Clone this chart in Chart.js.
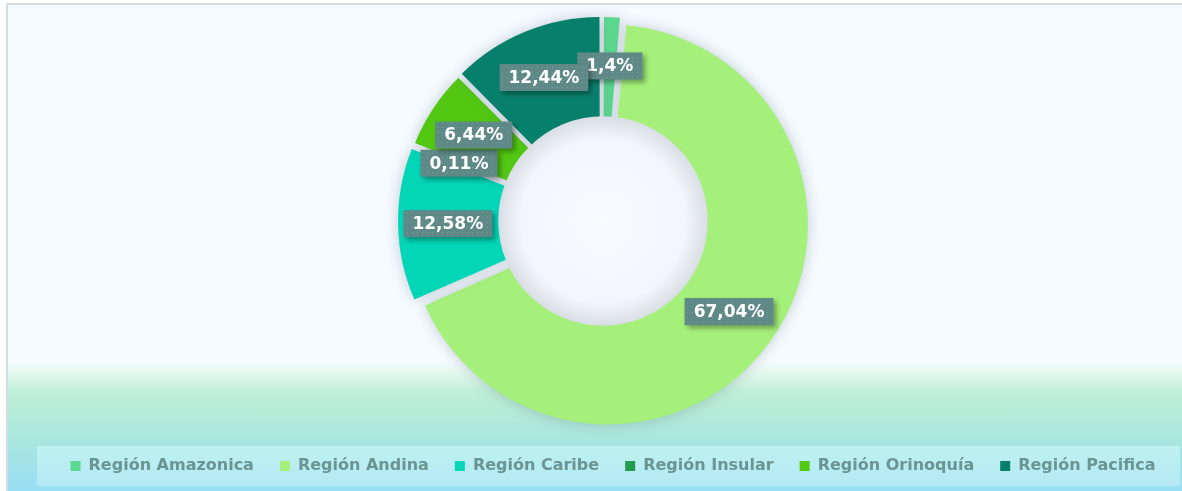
<!DOCTYPE html>
<html>
<head>
<meta charset="utf-8">
<script src="https://cdn.jsdelivr.net/npm/chart.js@4.4.1/dist/chart.umd.min.js"></script>
<style>
body{margin:0;width:1182px;height:491px;overflow:hidden;position:relative;background:#fff;}
#marco{
position:absolute;left:6px;top:3px;right:0;bottom:0;
border-left:2px solid #d4dee2;border-top:2px solid #d4dee2;
background:linear-gradient(to bottom,#f5fbff 0px,#f5fbff 357px,#e0f7ec 370px,#c0efd7 386px,#b4ebd8 408px,#a9e6df 436px,#a1e2ea 462px,#99dff4 486px);
}
#caja{position:absolute;left:37px;top:446px;width:1143px;height:40px;background:linear-gradient(to bottom,#bef1ee,#b4e9f6);}
canvas{position:absolute;left:0;top:0;}
</style>
</head>
<body>
<div id="marco"></div>
<div id="caja"></div>
<canvas id="grafico" width="1182" height="491"></canvas>
<script>

// ================================
// Datos
// ================================

const regiones=["Región Amazonica","Región Andina","Región Caribe","Región Insular","Región Orinoquía","Región Pacifica"];

const porcentajes=[1.4,67.04,12.58,0.11,6.44,12.44];

const colores=["#5cd991","#a4f07a","#03d6b6","#249c50","#52c812","#07806b"];

// separacion de cada porcion
const separacion=[21,24,34,24,24,33];

// ================================
// Patron de las etiquetas
// ================================

const tile=document.createElement("canvas");
tile.width=5;tile.height=5;
const tctx=tile.getContext("2d");
tctx.fillStyle="#5e8987";
tctx.fillRect(0,0,5,5);
tctx.fillStyle="#779f9d";
tctx.fillRect(2,2,1,1);

function texto(v){
    return v.toString().replace(".",",")+"%";
}

// ================================
// Plugin: sombra, centro y etiquetas
// ================================

const decorado={

id:"decorado",

// la leyenda va un poco a la derecha del centro del anillo
afterLayout(chart){
    chart.legend.left+=10;
    chart.legend.right+=10;
},

beforeDatasetsDraw(chart){
    const ctx=chart.ctx;
    ctx.save();
    ctx.shadowColor="rgba(70,80,100,0.28)";
    ctx.shadowBlur=14;
},

afterDatasetsDraw(chart){

    const ctx=chart.ctx;
    ctx.restore();

    const arcs=chart.getDatasetMeta(0).data;
    const cx=arcs[0].x, cy=arcs[0].y;
    const R=arcs[0].outerRadius;
    const r=R*0.54;

    // circulo central
    const g=ctx.createRadialGradient(cx,cy,0,cx,cy,r);
    g.addColorStop(0,"#f8fbff");
    g.addColorStop(0.78,"#f3f7fb");
    g.addColorStop(1,"#d9dee5");
    ctx.save();
    ctx.beginPath();
    ctx.arc(cx,cy,r,0,Math.PI*2);
    ctx.fillStyle=g;
    ctx.fill();
    ctx.restore();

    // etiquetas
    const patron=ctx.createPattern(tile,"repeat");
    ctx.save();
    ctx.font='bold 17px "DejaVu Sans"';
    ctx.textAlign="center";
    ctx.textBaseline="middle";

    arcs.forEach(function(a,i){
        const mid=(a.startAngle+a.endAngle)/2;
        const lr=R*0.8;
        const x=a.x+Math.cos(mid)*lr;
        const y=a.y+Math.sin(mid)*lr;
        const t=texto(porcentajes[i]);
        const w=ctx.measureText(t).width+18;
        const h=27;

        ctx.save();
        ctx.shadowColor="rgba(0,0,0,0.35)";
        ctx.shadowBlur=5;
        ctx.shadowOffsetX=3;
        ctx.shadowOffsetY=3;
        ctx.fillStyle=patron;
        ctx.fillRect(x-w/2,y-h/2,w,h);
        ctx.restore();

        ctx.fillStyle="#ffffff";
        ctx.fillText(t,x,y+1);
    });

    ctx.restore();
}

};

// ================================
// Grafico
// ================================

new Chart(document.getElementById("grafico"),{

type:"doughnut",

data:{
    labels:regiones,
    datasets:[{
        data:porcentajes,
        backgroundColor:colores,
        borderWidth:0,
        offset:separacion,
        hoverOffset:0
    }]
},

options:{
    responsive:false,
    animation:false,
    radius:194,
    cutout:"44%",
    layout:{
        padding:{top:10,bottom:7,left:30,right:6}
    },
    plugins:{
        tooltip:{enabled:false},
        legend:{
            position:"bottom",
            labels:{
                color:"#6b9593",
                boxWidth:10,
                boxHeight:10,
                padding:26,
                font:{family:"DejaVu Sans",size:16,weight:"bold"}
            }
        }
    }
},

plugins:[decorado]

});

</script>
</body>
</html>
